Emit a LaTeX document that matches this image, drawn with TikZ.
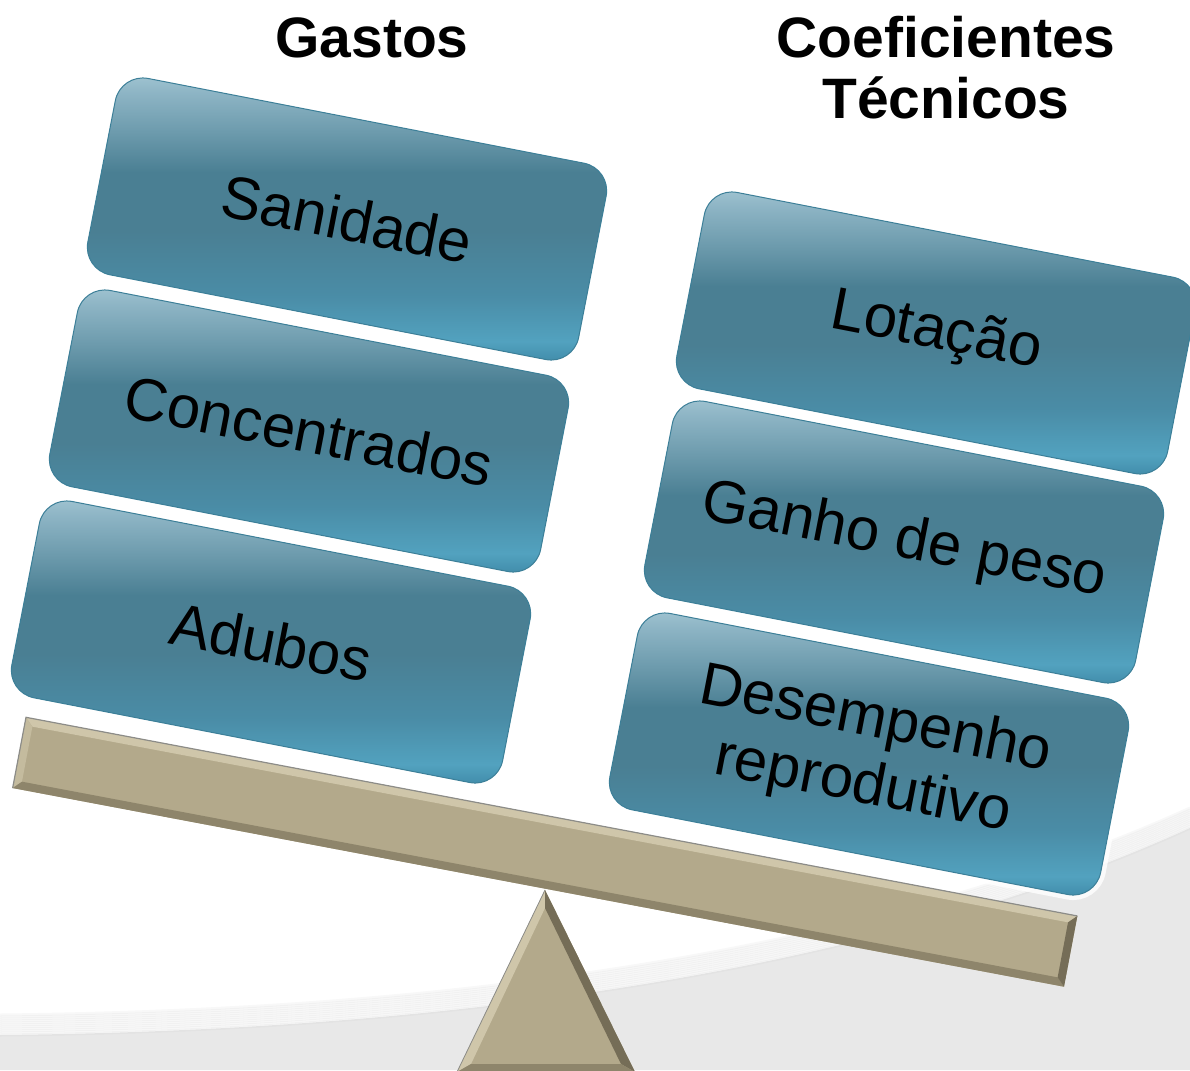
\documentclass[tikz,border=0pt]{standalone}
\usepackage{fontspec}
\setmainfont{Liberation Sans}
\usetikzlibrary{calc}
\definecolor{color_swoosh}{HTML}{E8E8E8}
\definecolor{color_swoosh_shadow}{HTML}{B8B8B8}
\definecolor{color_wood}{HTML}{B3A98B}
\definecolor{color_wood_light}{HTML}{CFC6AA}
\definecolor{color_wood_side}{HTML}{C4BB9E}
\definecolor{color_wood_dark}{HTML}{8E856B}
\definecolor{color_wood_darker}{HTML}{756D57}
\definecolor{color_beam_edge}{HTML}{8C8C88}
\definecolor{color_box_border}{HTML}{3C7F98}
\definecolor{color_box_bottom}{HTML}{3E88A6}
\definecolor{color_box_band}{HTML}{52A2BF}
\definecolor{color_box_low}{HTML}{4A8CA6}
\definecolor{color_box_mid}{HTML}{4A7F93}
\definecolor{color_box_upper}{HTML}{6D9BAD}
\definecolor{color_box_high}{HTML}{8FB6C6}
\definecolor{color_box_top}{HTML}{A2C5D2}
\pgfdeclareverticalshading{boxshading}{100bp}{color(0bp)=(color_box_bottom); color(25bp)=(color_box_bottom); color(29bp)=(color_box_band); color(37bp)=(color_box_low); color(48bp)=(color_box_mid); color(58bp)=(color_box_mid); color(65bp)=(color_box_upper); color(72bp)=(color_box_high); color(75bp)=(color_box_top); color(100bp)=(color_box_top)}
\def\boxwidth{500pt}
\def\boxheight{200pt}
\def\boxcornerradius{28pt}
\def\boxangle{-11}
\def\beamangle{-10.7}
\def\boxfont{\fontsize{60pt}{67pt}\selectfont}
\def\titlefont{\fontsize{57pt}{60pt}\selectfont\bfseries}
\tikzset{
    itembox/.style={shape=rectangle, rounded corners=\boxcornerradius, rotate=\boxangle,
        minimum width=\boxwidth, minimum height=\boxheight, inner sep=0pt,
        shading=boxshading, draw=color_box_border, line width=1pt,
        preaction={draw=white, line width=10pt, opacity=0.8},
        font=\boxfont, align=center, text=black},
    titletext/.style={font=\titlefont, align=center, text=black, inner sep=0pt}
}

\begin{document}
\begin{tikzpicture}[x=1pt,y=-1pt]
        \useasboundingbox (0,0) rectangle (1190,1070);
        % background swoosh
        \fill[color_swoosh] (0,1035) .. controls (500,1030) and (900,960) .. (1190,828) -- (1190,1070) -- (0,1070) -- cycle;
        \foreach \k in {0,...,10}
            \draw[color_swoosh_shadow, line width=3pt, opacity=0.1, yshift=\k*2pt] (0,1035) .. controls (500,1030) and (900,960) .. (1190,828);
        % fulcrum
        \coordinate (apex) at (545,890);
        \coordinate (foot_left) at (457,1072);
        \coordinate (foot_right) at (635,1072);
        \coordinate (apex_in) at (545,908);
        \coordinate (foot_left_in) at (471,1064);
        \coordinate (foot_right_in) at (621,1064);
        \fill[color_wood] (apex) -- (foot_right) -- (foot_left) -- cycle;
        \fill[color_wood_light] (apex) -- (foot_left) -- (foot_left_in) -- (apex_in) -- cycle;
        \fill[color_wood_darker] (apex) -- (foot_right) -- (foot_right_in) -- (apex_in) -- cycle;
        \fill[color_wood_dark] (foot_left) -- (foot_right) -- (foot_right_in) -- (foot_left_in) -- cycle;
        \draw[color_beam_edge, line width=0.8pt] (foot_left) -- (apex);
        % beam
        \begin{scope}[shift={(545,852)}, rotate=\beamangle]
            \fill[color_wood] (-535,-36) rectangle (535,36);
            \fill[color_wood_light] (-535,-36) -- (535,-36) -- (527,-28) -- (-527,-28) -- cycle;
            \fill[color_wood_side] (-535,-36) -- (-527,-28) -- (-527,28) -- (-535,36) -- cycle;
            \fill[color_wood_dark] (-535,36) -- (535,36) -- (527,28) -- (-527,28) -- cycle;
            \fill[color_wood_darker] (535,-36) -- (535,36) -- (527,28) -- (527,-28) -- cycle;
            \draw[color_beam_edge, line width=1.2pt] (-535,36) -- (-535,-36) -- (535,-36);
        \end{scope}
        % gastos
        \node[itembox] (sanidade) at (347,219) {Sanidade};
        \node[itembox] (concentrados) at (309,431) {Concentrados};
        \node[itembox] (adubos) at (271,642) {Adubos};
        % coeficientes tecnicos
        \node[itembox] (lotacao) at (936,333) {Lotação};
        \node[itembox] (ganho) at (904,542) {Ganho de peso};
        \node[itembox] (desempenho) at (869,754) {Desempenho\\reprodutivo};
        % column titles
        \node[titletext, anchor=base] (gastos) at (372,58) {Gastos};
        \node[titletext, anchor=base] (coeficientes) at (946,58) {Coeficientes};
        \node[titletext, anchor=base] (tecnicos) at (946,118) {Técnicos};
    \end{tikzpicture}
\end{document}
